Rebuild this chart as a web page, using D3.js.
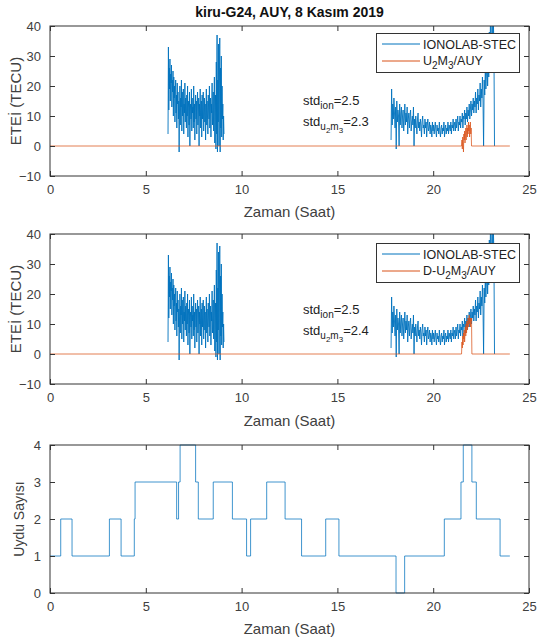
<!DOCTYPE html>
<html><head><meta charset="utf-8">
<script src="https://cdn.jsdelivr.net/npm/d3@7"></script>
<style>body{margin:0;background:#fff}svg{display:block;font-family:"Liberation Sans",Arial,sans-serif}</style>
</head><body><svg id="c" width="551" height="638"></svg>
<script>
// ---- data ----
const title = "kiru-G24, AUY, 8 Kasım 2019";
const xTicks = [0, 5, 10, 15, 20, 25];
const yTicksTec = [-10, 0, 10, 20, 30, 40];
const yTicksSat = [0, 1, 2, 3, 4];

// IONOLAB-STEC, segment 1 (start 6.16 h, step 0.02 h)
const stec1Start = 6.16, stec1Step = 0.02;
const stec1 = [4,33,12,26,19,29,15,24,21,27,
  13,22,18,25,10,23,16,20,8,19,
  22,11,17,6,21,14,18,9,15,-2,
  12,20,7,16,13,22,5,18,10,15,
  19,4,14,11,21,8,16,12,6,17,
  10,20,3,13,15,7,18,0,12,14,
  9,19,5,16,11,13,6,20,8,14,
  2,12,17,9,15,4,13,18,7,11,
  16,0,14,10,19,6,12,15,3,17,
  9,13,18,5,11,16,8,14,2,12,
  19,7,15,10,4,17,12,9,20,6,
  13,16,3,14,11,21,7,12,18,5,
  15,23,1,10,17,-1,28,4,37,-2,
  22,8,34,0,18,36,-2,26,6,30,
  3,20,9,14,2,10,4];
// IONOLAB-STEC, segment 2 (start 17.80 h, step 0.03 h)
const stec2Start = 17.80, stec2Step = 0.03;
const stec2 = [2,19,7,14,9,16,11,6,13,-1,
  15,8,12,10,0,14,7,11,13,6,
  10,12,5,9,14,7,11,8,13,4,
  9,11,6,10,12,5,8,10,7,13,
  0,9,6,10,7,4,9,11,6,8,
  5,9,7,3,8,10,6,7,4,9,
  6,8,3,7,9,5,6,8,4,7,
  6,3,8,5,7,4,6,8,5,3,
  7,5,6,4,8,5,3,6,7,4,
  6,5,8,3,6,7,4,6,5,8,
  4,7,6,5,8,4,7,6,9,5,
  7,8,5,9,6,8,10,5,8,7,
  10,6,9,8,11,6,10,9,12,7,
  11,9,13,8,12,10,14,9,12,15,
  10,14,12,16,11,15,13,18,11,16,
  14,19,12,17,15,21,13,19,16,23,
  15,0,22,17,26,19,24,31,20,28,
  23,38,25,44,29,35,46,27,42,33,
  0];

// U2M3/AUY (times, values)
const u2m3T = [0,21.48,21.50,21.52,21.54,21.56,21.58,21.60,21.62,21.64,21.66,21.68,21.70,21.72,21.74,21.76,21.78,21.80,21.82,21.84,21.86,21.88,21.90,21.92,21.94,21.96,21.98,22.00,24];
const u2m3V = [0,0,2,-1,3,1,-2,4,2,5,1,3,6,2,5,7,3,6,4,8,5,7,3,6,8,4,6,0,0];
// D-U2M3/AUY
const du2m3T = [0,21.48,21.50,21.52,21.54,21.56,21.58,21.60,21.62,21.64,21.66,21.68,21.70,21.72,21.74,21.76,21.78,21.80,21.82,21.84,21.86,21.88,21.90,21.92,21.94,21.96,21.98,22.00,22.02,24];
const du2m3V = [0,0,4,2,6,3,7,5,8,4,7,9,6,10,7,11,8,10,12,9,11,13,10,12,9,12,11,12,0,0];

// Uydu Sayısı (step changes: time, new value)
const satT = [0,0.56,1.15,3.10,3.71,4.40,4.44,6.61,6.71,6.79,7.60,7.74,8.52,9.52,10.26,10.47,11.31,12.27,13.13,14.39,15.08,18.06,18.51,20.58,21.45,21.57,22.02,22.25,23.49,24.0];
const satV = [1,2,1,2,1,2,3,2,3,4,3,2,3,2,1,2,3,2,1,2,1,0,1,2,3,4,3,2,1,1];

// ---- drawing ----
const svg = d3.select("#c");
const BLUE = "#0072BD", ORANGE = "#D95319", AX = "#333", TXT = "#404040";
const x = d3.scaleLinear().domain([0, 25]).range([50, 529]);

function frame(y, yTicks, ylabel, xlabBase, ylabX, ylabSize) {
  const g = svg.append("g");
  const [y0, y1] = y.range();
  const tl = 5;
  g.append("g").attr("transform", `translate(0,${y0})`)
    .call(d3.axisBottom(x).tickValues(xTicks).tickSizeInner(-tl).tickSizeOuter(0).tickPadding(9).tickFormat(d3.format("d")))
    .call(a => { a.select(".domain").remove(); a.selectAll("line").attr("stroke", AX);
                 a.selectAll("text").attr("fill", TXT).style("font-size", "13px"); });
  g.append("g").attr("transform", `translate(0,${y1})`)
    .call(d3.axisTop(x).tickValues(xTicks).tickSizeInner(-tl).tickSizeOuter(0).tickFormat(""))
    .call(a => { a.select(".domain").remove(); a.selectAll("line").attr("stroke", AX); });
  g.append("g").attr("transform", `translate(50,0)`)
    .call(d3.axisLeft(y).tickValues(yTicks).tickSizeInner(-tl).tickSizeOuter(0).tickPadding(9).tickFormat(d3.format("d")))
    .call(a => { a.select(".domain").remove(); a.selectAll("line").attr("stroke", AX);
                 a.selectAll("text").attr("fill", TXT).style("font-size", "13px"); });
  g.append("g").attr("transform", `translate(529,0)`)
    .call(d3.axisRight(y).tickValues(yTicks).tickSizeInner(-tl).tickSizeOuter(0).tickFormat(""))
    .call(a => { a.select(".domain").remove(); a.selectAll("line").attr("stroke", AX); });
  g.append("rect").attr("x", 50).attr("y", y1).attr("width", 479).attr("height", y0 - y1)
    .attr("fill", "none").attr("stroke", AX).attr("stroke-width", 1);
  svg.append("text").attr("x", 289.5).attr("y", xlabBase).attr("text-anchor", "middle")
    .attr("fill", TXT).style("font-size", "15px").text("Zaman (Saat)");
  svg.append("text").attr("transform", `translate(${ylabX},${(y0 + y1) / 2}) rotate(-90)`)
    .attr("text-anchor", "middle").attr("fill", TXT).style("font-size", ylabSize).text(ylabel);
}

function clipFor(id, y) {
  const [y0, y1] = y.range();
  svg.append("clipPath").attr("id", id).append("rect")
    .attr("x", 50).attr("y", y1).attr("width", 479).attr("height", y0 - y1);
}

function stecPanel(y, clipId, oT, oV, legendSecond, legTop, annTop, stdU, xlabBase) {
  clipFor(clipId, y);
  const line = d3.line().x(d => x(d[0])).y(d => y(d[1]));
  const cg = svg.append("g").attr("clip-path", `url(#${clipId})`);
  const seg1 = stec1.map((v, i) => [stec1Start + i * stec1Step, v]);
  const seg2 = stec2.map((v, i) => [stec2Start + i * stec2Step, v]);
  [seg1, seg2].forEach(s => cg.append("path").attr("d", line(s)).attr("fill", "none")
    .attr("stroke", BLUE).attr("stroke-width", 0.9).attr("stroke-linejoin", "round"));
  cg.append("path").attr("d", line(oT.map((t, i) => [t, oV[i]]))).attr("fill", "none")
    .attr("stroke", ORANGE).attr("stroke-width", 1).attr("stroke-opacity", 0.75);
  frame(y, yTicksTec, "ETEİ (TECU)", xlabBase, 21, "15px");
  // legend
  const lg = svg.append("g");
  lg.append("rect").attr("x", 376.5).attr("y", legTop + 0.5).attr("width", 143).attr("height", 39)
    .attr("fill", "#fff").attr("stroke", AX);
  lg.append("line").attr("x1", 382).attr("x2", 420).attr("y1", legTop + 11).attr("y2", legTop + 11)
    .attr("stroke", BLUE);
  lg.append("line").attr("x1", 382).attr("x2", 420).attr("y1", legTop + 28).attr("y2", legTop + 28)
    .attr("stroke", ORANGE);
  lg.append("text").attr("x", 423).attr("y", legTop + 15.5).attr("fill", "#222").style("font-size", "12.5px")
    .attr("textLength", 93).attr("lengthAdjust", "spacingAndGlyphs").text("IONOLAB-STEC");
  const t2 = lg.append("text").attr("x", 423).attr("y", legTop + 31.5).attr("fill", "#222").style("font-size", "12.5px");
  legendSecond.forEach(p => {
    t2.append("tspan").attr("dy", p[1]).style("font-size", p[2] || "12.5px").text(p[0]);
  });
  // annotations
  const a1 = svg.append("text").attr("x", 303).attr("y", annTop).attr("fill", "#222").style("font-size", "13px");
  a1.append("tspan").text("std");
  a1.append("tspan").attr("dy", 4).style("font-size", "10px").text("ion");
  a1.append("tspan").attr("dy", -4).text("=2.5");
  const a2 = svg.append("text").attr("x", 303).attr("y", annTop + 21).attr("fill", "#222").style("font-size", "13px");
  a2.append("tspan").text("std");
  a2.append("tspan").attr("dy", 4).style("font-size", "10px").text("u");
  a2.append("tspan").attr("dy", 3).style("font-size", "8px").text("2");
  a2.append("tspan").attr("dy", -3).style("font-size", "10px").text("m");
  a2.append("tspan").attr("dy", 3).style("font-size", "8px").text("3");
  a2.append("tspan").attr("dy", -7).text("=" + stdU);
}

// title
svg.append("text").attr("x", 289.5).attr("y", 17).attr("text-anchor", "middle")
  .attr("fill", "#111").style("font-size", "14px").style("font-weight", "bold").text(title);

const y1 = d3.scaleLinear().domain([-10, 40]).range([176, 26]);
const y2 = d3.scaleLinear().domain([-10, 40]).range([384, 234]);
const y3 = d3.scaleLinear().domain([0, 4]).range([593, 445]);

stecPanel(y1, "cp1", u2m3T, u2m3V,
  [["U", 0], ["2", 4, "10px"], ["M", -4], ["3", 4, "10px"], ["/AUY", -4]], 33, 105, "2.3", 217);
stecPanel(y2, "cp2", du2m3T, du2m3V,
  [["D-U", 0], ["2", 4, "10px"], ["M", -4], ["3", 4, "10px"], ["/AUY", -4]], 243, 314, "2.4", 426);

// bottom panel
const satPts = satT.map((t, i) => [t, satV[i]]);
svg.append("path").attr("d", d3.line().curve(d3.curveStepAfter).x(d => x(d[0])).y(d => y3(d[1]))(satPts))
  .attr("fill", "none").attr("stroke", BLUE).attr("stroke-width", 1).attr("stroke-opacity", 0.75);
frame(y3, yTicksSat, "Uydu Sayısı", 634, 24, "14px");
</script></body></html>
